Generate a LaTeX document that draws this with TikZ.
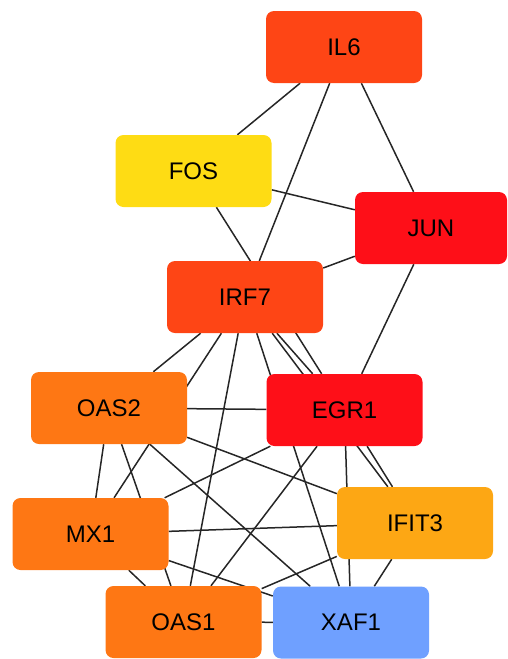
\documentclass[tikz,border=0pt]{standalone}
\usepackage{fontspec}
\setmainfont{Liberation Sans}
\usepackage{tikz}
\usetikzlibrary{shapes,positioning,backgrounds}
\usepackage{xcolor}

\definecolor{degred}{HTML}{FE0F18}
\definecolor{degorred}{HTML}{FE4515}
\definecolor{degorange}{HTML}{FE7714}
\definecolor{degamber}{HTML}{FDA714}
\definecolor{degyellow}{HTML}{FEDC14}
\definecolor{degblue}{HTML}{6FA0FF}

\begin{document}
\begin{tikzpicture}[
    x=1pt, y=-1pt,
    every node/.style={font=\fontsize{24}{28}\selectfont},
    gene/.style={rectangle, rounded corners=8pt, draw=none, minimum width=156pt, minimum height=72pt, inner sep=0pt, align=center},
    red/.style={gene, fill=degred},
    orred/.style={gene, fill=degorred},
    orange/.style={gene, fill=degorange},
    amber/.style={gene, fill=degamber},
    yellow/.style={gene, fill=degyellow},
    blue/.style={gene, fill=degblue},
    link/.style={draw=black!85, line width=1.5pt}
]
    \useasboundingbox (0,0) rectangle (508,659);

    % Top
    \node[orred] (il6) at (344,47) {IL6};
    \node[yellow] (fos) at (193.5,171) {FOS};
    \node[red, minimum width=152pt] (jun) at (431,228) {JUN};
    \node[orred] (irf7) at (245,297) {IRF7};

    % Middle
    \node[orange] (oas2) at (109,408) {OAS2};
    \node[red] (egr1) at (344.5,410) {EGR1};
    \node[orange] (mx1) at (90.5,534) {MX1};
    \node[amber] (ifit3) at (415,523) {IFIT3};

    % Bottom
    \node[orange] (oas1) at (183.5,622) {OAS1};
    \node[blue] (xaf1) at (351,622.5) {XAF1};

    % Connections
    \begin{pgfonlayer}{background}
    \draw[link] (il6) -- (fos);
    \draw[link] (il6) -- (irf7);
    \draw[link] (il6) -- (jun);
    \draw[link] (fos) -- (jun);
    \draw[link] (fos) -- (egr1);
    \draw[link] (jun) -- (irf7);
    \draw[link] (jun) -- (egr1);

    \draw[link] (irf7) -- (oas2);
    \draw[link] (irf7) -- (mx1);
    \draw[link] (irf7) -- (oas1);
    \draw[link] (irf7) -- (xaf1);
    \draw[link] (irf7) -- (egr1);
    \draw[link] (irf7) -- (ifit3);

    \draw[link] (oas2) -- (egr1);
    \draw[link] (oas2) -- (mx1);
    \draw[link] (oas2) -- (oas1);
    \draw[link] (oas2) -- (xaf1);
    \draw[link] (oas2) -- (ifit3);

    \draw[link] (egr1) -- (mx1);
    \draw[link] (egr1) -- (oas1);
    \draw[link] (egr1) -- (xaf1);
    \draw[link] (egr1) -- (ifit3);

    \draw[link] (mx1) -- (ifit3);
    \draw[link] (mx1) -- (xaf1);
    \draw[link] (mx1) -- (oas1);
    \draw[link] (oas1) -- (ifit3);
    \draw[link] (oas1) -- (xaf1);
    \draw[link] (ifit3) -- (xaf1);
    \end{pgfonlayer}
\end{tikzpicture}
\end{document}
